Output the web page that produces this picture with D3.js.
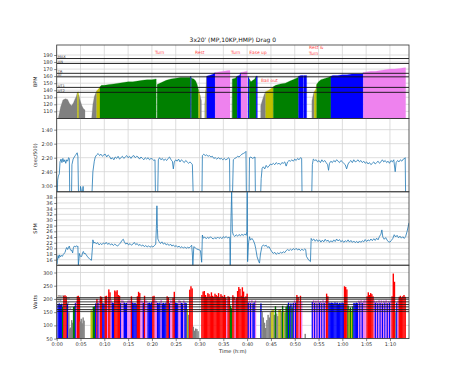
<!DOCTYPE html>
<html>
<head>
<meta charset="utf-8">
<script src="https://cdn.jsdelivr.net/npm/d3@7"></script>
<style>
body { margin: 0; background: #fff; }
svg { font-family: "DejaVu Sans", sans-serif; }
</style>
</head>
<body>
<svg id="chart" width="455" height="380"></svg>
<script>
// ---- data (time in minutes) ----
const title = "3x20' (MP,10KP,HMP) Drag 0"
const zoneNames = ['UT2', 'UT1', 'AT', 'TR', 'AN', 'MAX']
const zoneColors = ['#808080', '#bfbf00', '#008000', '#0000ff', '#ee82ee', '#ff0000']
const hrZoneLimits = [137, 144, 159, 164, 178, 185]
const powerZoneLimits = [153, 160, 170, 179, 189, 199, 205]
const powerColorLimits = [153, 165, 179, 189, 199]
const paceTicks = [100, 120, 140, 160, 180]
const spmTicks = [16, 18, 20, 22, 24, 26, 28, 30, 32, 34, 36, 38]
const bpmTicks = [110, 120, 130, 140, 150, 160, 170, 180, 190]
const wattTicks = [50, 100, 150, 200, 250, 300]
const timeTicks = [0, 5, 10, 15, 20, 25, 30, 35, 40, 45, 50, 55, 60, 65, 70]

const notes = [
    { t: 20.65, bpm: 190.8, text: ['Turn'] },
    { t: 29.05, bpm: 190.8, text: ['Rest'] },
    { t: 36.6, bpm: 190.8, text: ['Turn'] },
    { t: 40.45, bpm: 190.8, text: ['Ease up'] },
    { t: 53.0, bpm: 197.9, text: ['Rest &', 'Turn'] },
    { t: 42.9, bpm: 151, text: ['Bail out'] }
]

const hrData = [
    [0.35,101],[0.8,116],[1.3,126],[1.8,128],[2.3,127],[2.7,121],[3.1,118],[3.5,122],[3.8,127],[4.1,131],
    [4.35,137],[4.5,138],[4.65,133],[4.9,126],[5.3,118],[5.6,114],[5.95,112],[5.96,null],
    [7.35,101],[7.6,120],[7.9,131],[8.2,136],[8.4,139],[8.8,142],[9.1,145],[9.4,147],[10,147],[11,148],
    [12,149],[13,150],[14,151],[15,152],[16,152],[17,153],[18,154],[19,155],[20,155],[20.9,156],[21.0,null],
    [21.1,148],[22,151],[23,154],[24,156],[25,157],[26,158],[27,158],[28.0,158],[28.15,160],[28.3,157],
    [28.8,156],[29.2,153],[29.5,148],[29.8,140],[30.1,133],[30.4,125],[30.5,null],
    [31.1,120],[31.3,140],[31.5,160],[32,161],[32.5,162],[32.9,163],[33.3,165],[34,166],[35,167],[36,168],[36.4,168],[36.5,null],
    [36.8,120],[36.9,156],[37.5,157],[37.9,160],[38.4,161],[38.7,165],[39.3,166],[40.0,167],[40.1,null],
    [40.2,160],[40.45,156],[40.8,152],[41.2,154],[41.6,156],[41.9,160],[42.15,160],[42.2,null],
    [42.85,118],[43.2,126],[43.6,134],[43.9,138],[44.5,140],[45,142],[45.5,145],[46,147],[47,149],[48,150],
    [49,153],[50,156],[50.7,158],[50.8,160],[51.3,161],[51.75,161],[51.8,null],[51.85,161],[52.5,161],[52.6,null],
    [53.6,125],[53.9,134],[54.1,138],[54.4,141],[54.6,148],[55,152],[55.5,155],[56,156],[56.5,157],[57,158],
    [57.6,160],[58,161],[59,161],[60,162],[61,162],[62,163],[63,163],[64.3,163],[64.4,165],[65,166],[66,167],
    [67,167],[68,168],[69,169],[70,170],[71,170],[72,171],[73,172],[73.3,172]
]

// seconds per 500m; 200 = off the bottom of the axis
const paceData = [
    [0.1,200],[0.2,172],[0.35,166],[0.55,163],[0.7,146],[0.9,142],[1.1,147],[1.3,141],[1.5,146],[1.7,143],
    [1.9,148],[2.1,143],[2.3,145],[2.5,140],[2.65,141],[2.75,200],[3.1,200],[3.2,150],[3.45,142],[3.7,139],
    [3.9,137],[4.1,135],[4.3,133],[4.45,138],[4.6,200],[4.9,200],[5.0,181],[5.15,186],[5.3,200],[5.4,190],
    [5.55,181],[5.7,200],[5.8,null],
    [7.35,200],[7.6,160],[7.9,145],[8.1,139],[8.4,136],[8.7,134],[9.0,137],[9.3,135],[9.6,138],[9.9,136],
    [10.2,135],[10.5,139],[10.8,136],[11.1,138],[11.4,142],[11.7,140],[12,143],[12.3,139],[12.6,141],[12.9,138],
    [13.2,142],[13.5,140],[13.8,138],[14.1,141],[14.4,139],[14.7,137],[15,140],[15.3,138],[15.6,141],[15.9,138],
    [16.2,137],[16.5,140],[16.8,138],[17.1,139],[17.4,142],[17.7,139],[18,141],[18.3,143],[18.6,140],[18.9,142],
    [19.2,140],[19.5,143],[19.8,141],[20.1,142],[20.4,144],[20.65,143],[20.75,200],[21.2,200],[21.35,143],[21.6,140],
    [21.9,143],[22.2,141],[22.5,144],[22.8,142],[23.1,144],[23.4,141],[23.7,139],[24,143],[24.3,145],[24.5,156],
    [24.7,146],[25,143],[25.3,145],[25.6,142],[25.9,146],[26.2,143],[26.5,145],[26.8,147],[27.1,144],[27.4,146],
    [27.7,148],[28,146],[28.3,148],[28.5,150],[28.7,200],[28.8,null],
    [30.5,200],[30.6,137],[30.9,135],[31.2,137],[31.5,136],[31.8,138],[32.1,137],[32.4,139],[32.7,138],[33,141],
    [33.3,140],[33.6,142],[34,140],[34.3,142],[34.6,141],[34.9,143],[35.2,141],[35.5,143],[35.8,142],[36.1,140],
    [36.3,142],[36.4,200],[36.9,200],[37.1,143],[37.4,141],[37.7,140],[38,138],[38.3,139],[38.6,137],[38.9,135],
    [39.2,134],[39.5,133],[39.75,131],[39.85,200],[40.4,200],[40.5,140],[40.8,139],[41.1,141],[41.4,140],[41.65,139],
    [41.75,200],[41.8,null],
    [42.8,200],[42.95,170],[43.15,155],[43.4,153],[43.7,156],[44,151],[44.3,154],[44.6,152],[44.9,149],[45.2,150],
    [45.5,148],[45.8,150],[46.1,147],[46.4,149],[46.7,148],[47,150],[47.3,147],[47.6,148],[47.9,146],[48.2,152],
    [48.5,146],[48.8,144],[49.1,145],[49.4,143],[49.7,145],[50,142],[50.3,144],[50.6,141],[50.9,143],[51.2,140],
    [51.45,141],[51.55,200],[51.6,null],
    [53.55,200],[53.7,150],[53.9,142],[54.2,144],[54.5,143],[54.8,146],[55.1,144],[55.4,147],[55.7,143],[56,146],
    [56.3,144],[56.6,147],[56.9,150],[57.1,158],[57.3,148],[57.6,145],[57.9,147],[58.2,144],[58.5,146],[58.8,143],
    [59.1,145],[59.4,147],[59.7,144],[60,146],[60.3,148],[60.6,150],[60.9,156],[61.2,149],[61.5,146],[61.8,144],
    [62.1,147],[62.4,143],[62.7,146],[63,145],[63.3,143],[63.6,146],[63.9,144],[64.2,147],[64.5,145],[64.8,148],
    [65.1,146],[65.4,149],[65.7,147],[66,150],[66.3,148],[66.6,146],[66.9,149],[67.2,147],[67.5,145],[67.8,148],
    [68.1,146],[68.4,143],[68.7,146],[69,144],[69.3,147],[69.6,145],[69.9,148],[70.2,144],[70.5,146],[70.8,143],
    [71.1,160],[71.3,147],[71.6,144],[71.9,146],[72.2,143],[72.5,145],[72.8,142],[73.1,141],[73.2,140],[73.3,200]
]

const spmData = [
    [0.1,14.5],[0.15,15.8],[0.3,17.5],[0.45,16.5],[0.6,17.7],[0.8,17],[1.0,17.5],[1.2,17.2],[1.4,17.9],[1.6,18.3],
    [1.75,18.5],[1.9,19.5],[2.1,20.3],[2.3,19.6],[2.5,20.4],[2.65,20.8],[2.8,19.8],[3.0,19.2],[3.14,19.4],[3.35,18.4],
    [3.5,20.2],[3.7,20.8],[3.9,20.5],[4.1,20.9],[4.3,20.6],[4.45,20.8],[4.55,14],[4.7,16.5],[4.75,18.2],[4.9,17.5],
    [5.1,17.0],[5.25,17.2],[5.45,18.5],[5.6,18.9],[5.8,18.0],[5.95,18.3],[6.5,17],[7.0,16.1],[7.3,15.8],[7.5,20],
    [7.6,23],[7.8,21.8],[8,22.2],[8.3,21.6],[8.6,22],[8.9,21.2],[9.2,21.7],[9.5,21.3],[9.8,21.9],[10.1,21.5],
    [10.4,22.1],[10.7,21.4],[11,21.8],[11.3,21.2],[11.6,21.6],[11.9,21],[12.2,21.5],[12.5,21.1],[12.8,20.8],[13.1,21.4],
    [13.4,21.9],[13.7,22.8],[14.0,23.2],[14.2,22.3],[14.5,21.5],[14.8,21.9],[15.1,21.2],[15.4,21.7],[15.7,21.1],[16,21.5],
    [16.3,22.1],[16.6,21.3],[16.9,21.7],[17.2,21],[17.5,21.4],[17.8,20.8],[18.1,21.2],[18.4,20.6],[18.7,21],[19,20.5],
    [19.3,20.9],[19.6,20.4],[19.9,20.8],[20.2,20.5],[20.5,20.9],[20.8,21.5],[20.95,28],[21.05,35],[21.15,27],[21.25,23.3],
    [21.5,22.4],[21.8,21.7],[22.1,22.3],[22.4,21.5],[22.7,21.9],[23,21.2],[23.3,21.6],[23.6,21],[23.9,21.5],[24.2,20.8],
    [24.5,21.2],[24.8,20.6],[25.1,21],[25.4,20.4],[25.7,20.8],[26,20.2],[26.3,20.6],[26.6,20.1],[26.9,20.5],[27.2,20],
    [27.5,20.4],[27.8,20.1],[28.1,20.6],[28.35,21.1],[28.5,18],[28.6,14],[28.8,20.6],[29.1,20.2],[29.4,19.8],[29.7,19.6],
    [30,19.4],[30.2,19.2],[30.45,15.1],[30.6,24.7],[30.8,23.6],[31.1,24],[31.4,23.4],[31.7,23.9],[32,23.5],[32.3,24.1],
    [32.6,23.6],[32.9,23.3],[33.2,23.8],[33.5,23.4],[33.8,24],[34.1,23.5],[34.4,23.9],[34.7,23.4],[35,24.1],[35.3,23.7],
    [35.6,24.2],[35.9,23.6],[36.2,24],[36.35,23.8],[36.45,14],[36.6,30],[36.75,40],[36.9,26],[37.1,24.7],[37.4,24.2],
    [37.7,24.8],[38,24.3],[38.3,24.9],[38.6,24.4],[38.9,25],[39.2,24.5],[39.5,25.1],[39.8,24.6],[39.95,26],[40.02,40],
    [40.1,15.3],[40.3,22],[40.5,24.1],[40.7,22.9],[41,23.5],[41.3,22.8],[41.6,21.5],[41.8,20],[42.1,17],[42.4,15.5],
    [42.6,14.8],[42.8,18],[43.1,20.6],[43.4,21.2],[43.7,20.8],[44,21.1],[44.3,20.3],[44.6,20.6],[44.9,19.6],[45.2,18.8],
    [45.5,18.2],[45.8,18.6],[46.1,17.9],[46.4,18.4],[46.7,18.1],[47,18.6],[47.3,18.3],[47.6,18.8],[47.9,18.5],[48.2,19.2],
    [48.5,19.6],[48.8,19.2],[49.1,19.7],[49.4,19.3],[49.7,19.9],[50,19.5],[50.3,20],[50.6,19.4],[50.9,19.8],[51.2,19.2],
    [51.5,19.7],[51.8,19.3],[52.1,19.8],[52.3,19.6],[52.45,17.2],[52.8,16.2],[53.1,15.6],[53.3,15.3],[53.45,23.5],[53.7,22.8],
    [54,23.3],[54.3,22.5],[54.6,23.1],[54.9,22.4],[55.2,23],[55.5,22.2],[55.8,22.9],[56.1,22.3],[56.4,23.2],[56.7,22.5],
    [57,22.9],[57.3,22.1],[57.6,22.7],[57.9,22.2],[58.2,23],[58.5,22.4],[58.8,23.3],[59.1,22.6],[59.4,23.1],[59.7,22.3],
    [60,22.8],[60.3,22.1],[60.6,22.7],[60.9,22.3],[61.2,23],[61.5,22.2],[61.8,22.8],[62.1,22.1],[62.4,22.6],[62.7,22],
    [63,22.5],[63.3,21.9],[63.6,22.6],[63.9,22.1],[64.2,22.7],[64.5,22.3],[64.8,23.1],[65.1,22.4],[65.4,23],[65.7,22.6],
    [66,23.3],[66.3,22.7],[66.6,23.4],[66.9,22.8],[67.2,23.6],[67.5,23],[67.8,24.2],[68.1,25],[68.3,26.5],[68.5,24],
    [68.8,23.2],[69.1,23.8],[69.4,22.9],[69.7,22.3],[70,22.2],[70.3,22.8],[70.6,23.5],[70.9,24.8],[71.2,24],[71.5,24.6],
    [71.8,23.7],[72.1,24.3],[72.4,23.6],[72.7,24.1],[73,23.5],[73.3,24.2],[73.6,26],[74.0,29]
]

const wattsData = [
    [0.3,181],[0.55,183],[0.8,180],[1.05,182],[1.25,170],[1.5,212],[1.75,214],[2.0,210],[2.25,182],[2.55,150],
    [2.75,88],[2.95,92],[3.15,120],[3.35,110],[3.55,170],[3.75,172],[3.95,185],[4.15,190],[4.35,210],[4.55,212],
    [4.75,205],[4.95,115],[5.15,125],[5.35,108],[5.55,130],[5.75,118],
    [7.25,157],[7.45,155],[7.7,170],[7.95,172],[8.2,183],[8.45,200],[8.7,185],[8.95,197],[9.2,210],[9.45,208],
    [9.7,184],[9.95,182],[10.2,210],[10.45,212],[10.7,195],[10.95,236],[11.2,225],[11.45,196],[11.7,186],[11.95,184],
    [12.2,232],[12.45,228],[12.7,233],[12.95,215],[13.2,212],[13.45,184],[13.7,196],[13.95,194],[14.2,186],[14.45,183],
    [14.7,185],[14.95,193],[15.2,196],[15.45,192],[15.7,210],[15.95,186],[16.2,183],[16.45,185],[16.7,182],[16.95,210],
    [17.2,227],[17.45,222],[17.7,195],[17.95,193],[18.2,185],[18.45,212],[18.7,196],[18.95,192],[19.2,184],[19.45,186],
    [19.7,183],[19.95,187],[20.2,210],[20.45,212],[20.7,195],[20.95,193],[21.2,185],[21.45,183],[21.7,186],[21.95,196],
    [22.2,183],[22.45,185],[22.7,182],[22.95,186],[23.2,210],[23.45,206],[23.7,184],[23.95,195],[24.2,193],[24.45,205],
    [24.7,227],[24.95,186],[25.2,184],[25.45,183],[25.7,196],[25.95,193],[26.2,185],[26.45,183],[26.7,195],[26.95,186],
    [27.2,184],[27.45,160],[27.7,140],[27.95,235],[28.2,248],[28.45,240],[28.7,95],
    [28.95,80],[29.2,88],[29.45,86],[29.7,78],
    [30.5,215],[30.75,228],[31.0,230],[31.25,215],[31.5,208],[31.75,222],[32.0,218],[32.25,210],[32.5,225],[32.75,212],
    [33.0,208],[33.25,220],[33.5,215],[33.75,210],[34.0,222],[34.25,206],[34.5,218],[34.75,212],[35.0,208],[35.25,215],
    [35.5,205],[35.75,196],[36.0,210],[36.25,208],[36.5,175],[36.75,165],[37.0,214],[37.25,208],[37.5,196],[37.75,205],
    [38.0,230],[38.25,245],[38.5,238],[38.75,212],[39.0,244],[39.25,228],[39.5,205],[39.75,210],[40.0,220],[40.25,186],
    [40.5,194],[40.75,184],[41.0,196],[41.25,183],[41.5,187],[41.75,195],
    [42.9,183],[43.15,152],[43.4,130],[43.65,110],[43.9,90],[44.15,120],[44.4,140],[44.65,130],[44.9,150],[45.2,156],
    [45.45,160],[45.7,140],[45.95,172],[46.2,145],[46.45,135],[46.7,158],[46.95,162],[47.2,150],[47.45,174],[47.7,155],
    [47.95,148],[48.2,170],[48.45,176],[48.7,186],[48.95,172],[49.2,183],[49.45,168],[49.7,185],[49.95,195],[50.2,186],
    [50.45,215],[50.7,208],[50.95,193],[51.2,212],[51.45,190],
    [52.2,68],
    [53.7,188],[53.95,196],[54.2,185],[54.45,194],[54.7,183],[54.95,196],[55.2,186],[55.45,192],[55.7,184],[55.95,197],
    [56.2,185],[56.45,193],[56.7,220],[56.95,210],[57.2,186],[57.45,184],[57.7,186],[57.95,185],[58.2,183],[58.45,187],
    [58.7,184],[58.95,186],[59.2,182],[59.45,185],[59.7,183],[59.95,186],[60.2,184],[60.45,248],[60.7,245],[60.95,236],
    [61.2,175],[61.45,160],[61.7,168],[61.95,155],[62.2,172],[62.45,185],[62.7,183],[62.95,186],[63.2,184],[63.45,194],
    [63.7,187],[63.95,196],[64.2,185],[64.45,194],[64.7,197],[64.95,192],[65.2,210],[65.45,225],[65.7,215],[65.95,222],
    [66.2,218],[66.45,210],[66.7,195],[66.95,186],[67.2,193],[67.45,184],[67.7,196],[67.95,185],[68.2,195],[68.45,183],
    [68.7,194],[68.95,186],[69.2,197],[69.45,184],[69.7,193],[69.95,186],[70.2,195],[70.45,210],[70.7,296],[70.95,265],
    [71.2,150],[71.45,186],[71.7,194],[71.95,208],[72.2,212],[72.45,205],[72.7,210],[72.95,215],[73.2,208]
]

// ---- layout ----
const left = 56.7, right = 409
const panelTop = 45, panelH = 73.4
const xMax = 74
const fs = 5

const svg = d3.select('#chart')
const x = d3.scaleLinear().domain([0, xMax]).range([left, right])

function zoneOf(v, limits) {
    let k = 0
    for (const l of limits) if (v >= l) k++
    return k
}

function fmtTime(m) {
    return Math.floor(m / 60) + ':' + String(m % 60).padStart(2, '0')
}
function fmtPace(s) {
    return Math.floor(s / 60) + ':' + String(s % 60).padStart(2, '0')
}

function makePanel(i, domain, ticks, fmt, label) {
    const top = panelTop + i * panelH
    const bottom = top + panelH
    const y = d3.scaleLinear().domain(domain).range([bottom, top])
    const g = svg.append('g')

    g.append('clipPath').attr('id', 'clip' + i)
        .append('rect')
        .attr('x', left).attr('y', top)
        .attr('width', right - left).attr('height', panelH)

    // grid
    g.append('g').selectAll('line').data(timeTicks).join('line')
        .attr('x1', d => x(d)).attr('x2', d => x(d))
        .attr('y1', top).attr('y2', bottom)
        .attr('stroke', '#d4d4d4').attr('stroke-width', 0.8)
    g.append('g').selectAll('line').data(ticks).join('line')
        .attr('x1', left).attr('x2', right)
        .attr('y1', d => y(d)).attr('y2', d => y(d))
        .attr('stroke', '#d4d4d4').attr('stroke-width', 0.8)

    const body = g.append('g').attr('clip-path', `url(#clip${i})`)
    const over = g.append('g')

    const yAxis = d3.axisLeft(y).tickValues(ticks).tickFormat(fmt).tickSize(2.5).tickPadding(1.5)
    over.append('g')
        .attr('transform', `translate(${left},0)`)
        .call(yAxis)
        .call(a => a.select('.domain').remove())
        .call(a => a.selectAll('line').attr('stroke', '#333').attr('stroke-width', 0.6))
        .call(a => a.selectAll('text').attr('fill', '#333').style('font-size', fs + 'px').style('font-family', 'DejaVu Sans'))

    over.append('rect')
        .attr('x', left).attr('y', top)
        .attr('width', right - left).attr('height', panelH)
        .attr('fill', 'none').attr('stroke', '#333').attr('stroke-width', 0.8)

    over.append('text')
        .attr('transform', `translate(37,${(top + bottom) / 2}) rotate(-90)`)
        .attr('text-anchor', 'middle')
        .style('font-size', '5px')
        .attr('fill', '#222')
        .text(label)

    return { y, body, over, top, bottom }
}

// title
svg.append('text')
    .attr('x', (left + right) / 2).attr('y', 41.5)
    .attr('text-anchor', 'middle')
    .style('font-size', '6px')
    .attr('fill', '#111')
    .text(title)

// ---- panel 1: heart rate, filled by zone ----
const p1 = makePanel(0, [100, 204.2], bpmTicks, d => d, 'BPM')
const hrColor = v => zoneColors[zoneOf(v, hrZoneLimits.slice(0, 5))]
let run = null
function flushRun() {
    if (!run || run.pts.length < 2) { run = null; return }
    const y0 = p1.y(100)
    const pts = run.pts
    let d = `M${x(pts[0][0])},${y0}`
    pts.forEach(p => { d += `L${x(p[0])},${p1.y(p[1])}` })
    d += `L${x(pts[pts.length - 1][0])},${y0}Z`
    p1.body.append('path').attr('d', d)
        .attr('fill', run.c).attr('stroke', run.c).attr('stroke-width', 0.25)
    run = null
}
for (let k = 0; k < hrData.length - 1; k++) {
    const a = hrData[k], b = hrData[k + 1]
    if (a[1] == null || b[1] == null) { flushRun(); continue }
    const c = hrColor(a[1])
    if (run && run.c === c) {
        run.pts.push(b)
    } else {
        flushRun()
        run = { c: c, pts: [a, b] }
    }
}
flushRun()

hrZoneLimits.forEach((v, i) => {
    p1.body.append('line')
        .attr('x1', left).attr('x2', right)
        .attr('y1', p1.y(v)).attr('y2', p1.y(v))
        .attr('stroke', '#111').attr('stroke-width', 0.9)
    p1.over.append('text')
        .attr('x', left + 1).attr('y', p1.y(v) - 0.6)
        .style('font-size', '3.6px').attr('fill', '#333')
        .text(zoneNames[i])
})
notes.forEach(n => {
    const t = p1.over.append('text')
        .attr('x', x(n.t)).attr('y', p1.y(n.bpm))
        .style('font-size', '4.4px').attr('fill', '#ff4a4a')
    n.text.forEach((s, j) => t.append('tspan').attr('x', x(n.t)).attr('dy', j ? 6 : 0).text(s))
})

// ---- panel 2: pace ----
const p2 = makePanel(1, [188.7, 83.9], paceTicks, fmtPace, '(sec/500)')
p2.body.append('path')
    .datum(paceData)
    .attr('d', d3.line().defined(d => d[1] != null).x(d => x(d[0])).y(d => p2.y(d[1])))
    .attr('fill', 'none').attr('stroke', '#1f77b4').attr('stroke-width', 0.8)

// ---- panel 3: stroke rate ----
const p3 = makePanel(2, [14.06, 39.94], spmTicks, d => d, 'SPM')
p3.body.append('path')
    .datum(spmData)
    .attr('d', d3.line().x(d => x(d[0])).y(d => p3.y(d[1])))
    .attr('fill', 'none').attr('stroke', '#1f77b4').attr('stroke-width', 0.8)

// ---- panel 4: power ----
const p4 = makePanel(3, [50, 327.6], wattTicks, d => d, 'Watts')
p4.body.selectAll('rect.bar').data(wattsData).join('rect')
    .attr('class', 'bar')
    .attr('x', d => x(d[0]) - 0.7)
    .attr('width', 1.4)
    .attr('y', d => p4.y(d[1]))
    .attr('height', d => p4.y(50) - p4.y(d[1]))
    .attr('fill', d => zoneColors[zoneOf(d[1], powerColorLimits)])
powerZoneLimits.forEach(v => {
    p4.body.append('line')
        .attr('x1', left).attr('x2', right)
        .attr('y1', p4.y(v)).attr('y2', p4.y(v))
        .attr('stroke', '#111').attr('stroke-width', 0.8)
})
// labels staggered so the tiny names do not sit on top of each other
zoneNames.slice().reverse().forEach((s, i) => {
    p4.over.append('text')
        .attr('x', left + 1 + (i % 2) * 8).attr('y', p4.y(powerZoneLimits[6 - i]) - 0.4)
        .style('font-size', '2.8px').attr('fill', '#333')
        .text(s)
})

// x axis on the bottom panel
const xAxis = d3.axisBottom(x).tickValues(timeTicks).tickFormat(fmtTime).tickSize(2.5).tickPadding(1.5)
svg.append('g')
    .attr('transform', `translate(0,${p4.bottom})`)
    .call(xAxis)
    .call(a => a.select('.domain').remove())
    .call(a => a.selectAll('line').attr('stroke', '#333').attr('stroke-width', 0.6))
    .call(a => a.selectAll('text').attr('fill', '#333').style('font-size', fs + 'px').style('font-family', 'DejaVu Sans'))

svg.append('text')
    .attr('x', (left + right) / 2).attr('y', 353)
    .attr('text-anchor', 'middle')
    .style('font-size', '5px').attr('fill', '#222')
    .text('Time (h:m)')
</script>
